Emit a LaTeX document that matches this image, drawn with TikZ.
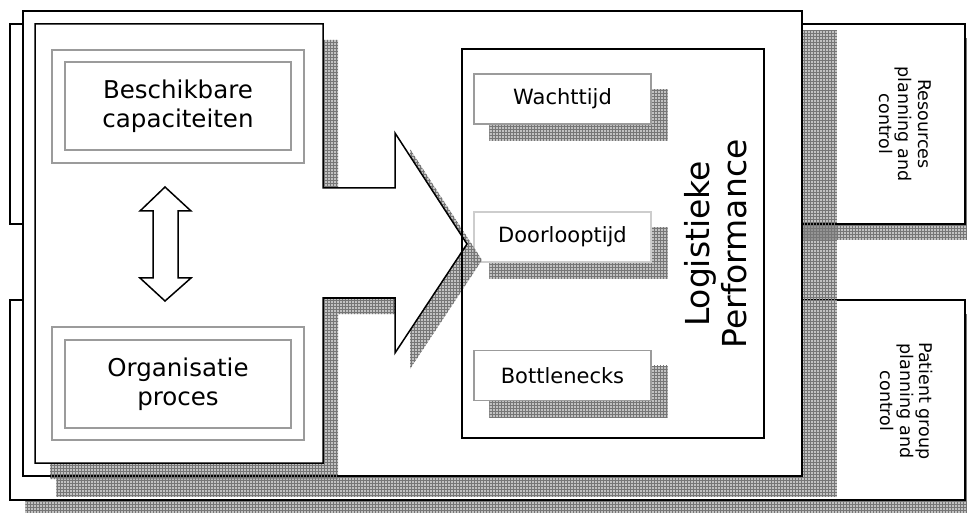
\documentclass[tikz,border=0pt]{standalone}
\usepackage{fontspec}
\setmainfont{DejaVu Sans}
\usetikzlibrary{patterns}
\definecolor{framegray}{RGB}{155,155,155}
\definecolor{paleframe}{RGB}{205,205,205}
\definecolor{gridline}{RGB}{118,118,118}
\tikzset{
  x=1pt, y=-1pt,
  panel/.style={draw=black, fill=white, line width=1.5pt, inner sep=0pt},
  outline/.style={draw=black, line width=1.5pt, inner sep=0pt},
  dropshadow/.style={fill=black, fill opacity=.24, draw=none,
    postaction={pattern=grid, pattern color=gridline}},
  frameout/.style={draw=framegray, fill=white, line width=1.3pt, inner sep=0pt},
  framein/.style={draw=framegray, line width=1.3pt, inner sep=0pt, align=center,
    font=\fontsize{24.5}{29}\selectfont},
  smallbox/.style={draw=framegray, fill=white, line width=1.3pt, inner sep=0pt,
    minimum width=177pt, minimum height=50pt, font=\fontsize{21}{25}\selectfont},
  sidelabel/.style={rotate=-90, align=center, font=\fontsize{17.5}{19.5}\selectfont},
}
\begin{document}
\begin{tikzpicture}
\useasboundingbox (0,0) rectangle (967,513);

% back panels: resources and patient groups
\node[panel, minimum width=955pt, minimum height=200pt] (res) at (487.5,124) {};
\node[panel, minimum width=955pt, minimum height=200pt] (pat) at (487.5,400) {};
\fill[dropshadow] ([shift={(16,15)}]res.north west) rectangle ([shift={(16,15)}]res.south east);
\fill[dropshadow] ([shift={(16,15)}]pat.north west) rectangle ([shift={(16,15)}]pat.south east);
\node[panel, minimum width=955pt, minimum height=200pt] at (res) {};
\node[panel, minimum width=955pt, minimum height=200pt] at (pat) {};

% middle panel
\node[panel, minimum width=779pt, minimum height=465pt] (mid) at (412.5,243.5) {};
\fill[dropshadow] ([shift={(34,20)}]mid.north west) rectangle ([shift={(34,20)}]mid.south east);
\node[panel, minimum width=779pt, minimum height=465pt] at (mid) {};

% performance indicators
\node[smallbox] (wacht) at (562.5,99) {Wachttijd};
\node[smallbox, draw=paleframe] (door) at (562.5,237) {Doorlooptijd};
\node[smallbox] (bottle) at (562.5,375.5) {Bottlenecks};
\foreach \b in {wacht,door,bottle}{
  \fill[dropshadow] ([shift={(16,16)}]\b.north west) rectangle ([shift={(16,16)}]\b.south east);
}
\node[smallbox] at (wacht) {Wachttijd};
\node[smallbox, draw=paleframe] at (door) {Doorlooptijd};
\node[smallbox] at (bottle) {Bottlenecks};

% inner panel with the arrow pointing right
\fill[dropshadow, shift={(15,16)}]
  (35,24) -- (323,24) -- (323,188) -- (395,188) -- (395,133) -- (467,244)
  -- (395,353) -- (395,298) -- (323,298) -- (323,463) -- (35,463) -- cycle;
\draw[panel, line join=miter]
  (35,24) -- (323,24) -- (323,188) -- (395,188) -- (395,133) -- (467,244)
  -- (395,353) -- (395,298) -- (323,298) -- (323,463) -- (35,463) -- cycle;

% performance box
\node[outline, minimum width=302pt, minimum height=389pt] (perf) at (613,243.5) {};
\node[rotate=90, align=center, font=\fontsize{33}{37}\selectfont] (perftxt) at (716,244)
  {Logistieke\\Performance};

% capacity and organisation frames
\node[frameout, minimum width=252pt, minimum height=113pt] (capout) at (178,106.5) {};
\node[framein, minimum width=226pt, minimum height=88pt] (cap) at (178,106)
  {Beschikbare\\capaciteiten};
\node[frameout, minimum width=252pt, minimum height=113pt] (orgout) at (178,383.5) {};
\node[framein, minimum width=226pt, minimum height=88pt] (org) at (178,384)
  {Organisatie\\proces};

% two-headed arrow between them
\draw[panel, line join=miter]
  (165,187) -- (191,211) -- (178,211) -- (178,278) -- (191,278) -- (165,301)
  -- (140,278) -- (153,278) -- (153,211) -- (140,211) -- cycle;

% side labels
\node[sidelabel] (restxt) at (905,124) {Resources\\planning and\\control};
\node[sidelabel] (pattxt) at (907,401) {Patient group\\planning and\\control};
\end{tikzpicture}
\end{document}
